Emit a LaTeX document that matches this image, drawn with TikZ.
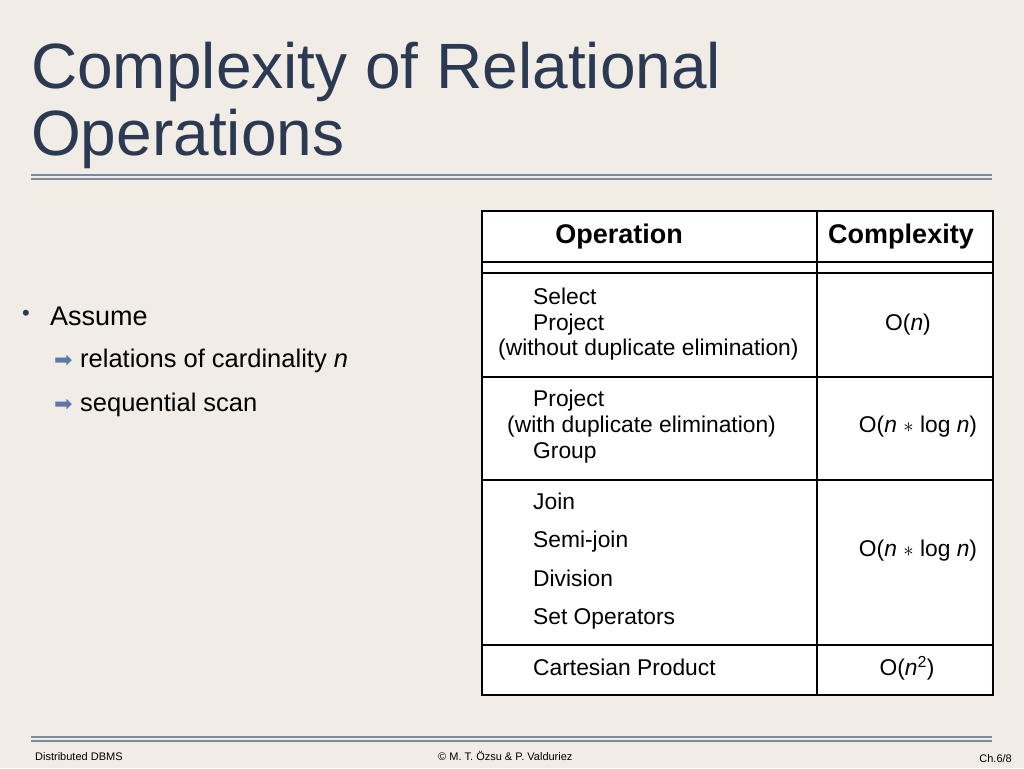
\documentclass[tikz,border=0pt]{standalone}
\usepackage{fontspec}
\setmainfont{Liberation Sans}
\newfontfamily\djv{DejaVu Sans}
\begin{document}
\begin{tikzpicture}[x=1pt,y=-1pt,
  t/.style={anchor=base west,inner sep=0pt,font=\fontsize{22.8}{24}\selectfont},
  tc/.style={anchor=base,inner sep=0pt,font=\fontsize{22.8}{24}\selectfont},
  lt/.style={anchor=base west,inner sep=0pt,font=\fontsize{25.5}{28}\selectfont},
  rule/.style={draw=black,line width=1.3pt}]
\definecolor{bg}{HTML}{F1EDE6}
\definecolor{navy}{HTML}{2B3A52}
\definecolor{rl}{HTML}{7A8BA0}
\definecolor{arr}{HTML}{5A78A8}
\fill[bg] (0,0) rectangle (1024,768);
\node[anchor=base west,inner sep=0pt,text=navy,font=\fontsize{64}{66}\selectfont] (t1) at (31,88) {Complexity of Relational};
\node[anchor=base west,inner sep=0pt,text=navy,font=\fontsize{64}{66}\selectfont] (t2) at (31,155) {Operations};
\draw[rl,line width=2pt] (31,175) -- (992,175) (31,179) -- (992,179);
\draw[rl,line width=2pt] (31,737) -- (992,737) (31,741) -- (992,741);
% bullets
\node[anchor=base west,inner sep=0pt,text=navy,font=\fontsize{22}{22}\selectfont] (b) at (22,320) {•};
\node[lt,font=\fontsize{27}{28}\selectfont] (a) at (50,325) {Assume};
\node[lt,text=arr,font=\fontsize{22}{24}\djv] (r1) at (54,367) {➡};
\node[lt] (r1t) at (80,367) {relations of cardinality \textit{n}};
\node[lt,text=arr,font=\fontsize{22}{24}\djv] (r2) at (54,411) {➡};
\node[lt] (r2t) at (80,411) {sequential scan};
% table
\fill[white] (482,211) rectangle (993,695);
\draw[rule] (482,211) rectangle (993,695);
\draw[rule] (817,211) -- (817,695);
\foreach \y in {262,273,377,480,645} \draw[rule] (482,\y) -- (993,\y);
\node[tc,font=\bfseries\fontsize{27}{28}\selectfont] (h1) at (619,243) {Operation};
\node[tc,font=\bfseries\fontsize{27}{28}\selectfont] (h2) at (901,243) {Complexity};
\node[t] (s1) at (533,304) {Select};
\node[t] (s2) at (533,330) {Project};
\node[t] (s3) at (498,355) {(without duplicate elimination)};
\node[tc] (c1) at (908,330) {O(\textit{n})};
\node[t] (p1) at (533,406) {Project};
\node[t] (p2) at (507,432) {(with duplicate elimination)};
\node[t] (p3) at (533,458) {Group};
\node[tc] (c2) at (918,432) {O(\textit{n} $*$ log \textit{n})};
\node[t] (j1) at (533,509) {Join};
\node[t] (j2) at (533,547) {Semi-join};
\node[t] (j3) at (533,586) {Division};
\node[t] (j4) at (533,624) {Set Operators};
\node[tc] (c3) at (918,556) {O(\textit{n} $*$ log \textit{n})};
\node[t] (k1) at (533,675) {Cartesian Product};
\node[tc] (c4) at (907,675) {O(\textit{n}\textsuperscript{2})};
% footer
\node[anchor=base west,inner sep=0pt,font=\fontsize{11}{12}\selectfont] (f1) at (35,760) {Distributed DBMS};
\node[anchor=base west,inner sep=0pt,font=\fontsize{11}{12}\selectfont] (f2) at (438,760) {© M. T. Özsu \& P. Valduriez};
\node[anchor=base east,inner sep=0pt,font=\fontsize{11}{12}\selectfont] (f3) at (1012,762) {Ch.6/8};
\end{tikzpicture}
\end{document}
